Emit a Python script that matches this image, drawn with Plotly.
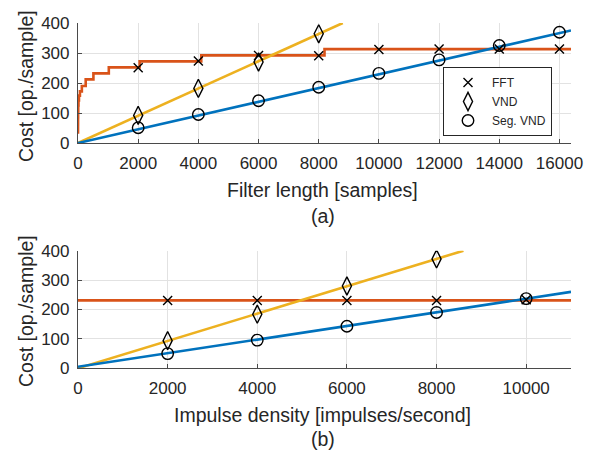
import plotly.graph_objects as go

# ---------------- data ----------------
# (a) cost vs. filter length
fft_step_x = [0, 1, 2, 4, 8, 16, 32, 64, 128, 256, 512, 1024, 2048, 4096, 8192, 16384]
fft_step_y = [35, 62, 85, 105, 125, 142, 158, 172, 190, 212, 232, 252, 272, 292, 313, 313]
vnd_line_x = [0, 8800]
vnd_line_y = [0, 400]
seg_line_x = [0, 16384]
seg_line_y = [0, 375]

len_marks = [2000, 4000, 6000, 8000, 10000, 12000, 14000, 16000]
fft_marks_a = [251, 273, 292, 291, 312, 313, 313, 313]
vnd_marks_x_a = [2000, 4000, 6000, 8000]
vnd_marks_a = [92, 182, 270, 364]
seg_marks_a = [51, 95, 141, 186, 232, 277, 325, 369]

# (b) cost vs. impulse density
fft_line_b_x = [0, 11000]
fft_line_b_y = [231, 231]
vnd_line_b_x = [0, 8600]
vnd_line_b_y = [0, 400]
seg_line_b_x = [0, 11000]
seg_line_b_y = [5, 260]

dens_marks = [2000, 4000, 6000, 8000, 10000]
fft_marks_b = [231, 231, 231, 231, 233]
vnd_marks_x_b = [2000, 4000, 6000, 8000]
vnd_marks_b = [94, 184, 280, 372]
seg_marks_b = [50, 96, 143, 190, 237]

x_ticks_a = [0, 2000, 4000, 6000, 8000, 10000, 12000, 14000, 16000]
x_ticks_b = [0, 2000, 4000, 6000, 8000, 10000]
y_ticks = [0, 100, 200, 300, 400]

# ---------------- styles ----------------
BLUE = "#0072BD"
ORANGE = "#D95319"
YELLOW = "#EDB120"
TXT = "#262626"
AX = "#4a4a4a"
GRID = "#e2e2e2"
FONT = "Liberation Sans, Arial, sans-serif"
LW = 2.6
TICK_FS = 17
LABEL_FS = 19.5
DIAMOND = 13

W, H = 594, 452


def mk(sym, size):
    return dict(symbol=sym, size=size, color="black",
                line=dict(color="black", width=1.4))


fig = go.Figure()

# ---- (a) lines ----
fig.add_trace(go.Scatter(x=fft_step_x, y=fft_step_y, mode="lines", line=dict(color=ORANGE, width=LW, shape="hv"),
                         showlegend=False, xaxis="x", yaxis="y", hoverinfo="skip"))
fig.add_trace(go.Scatter(x=vnd_line_x, y=vnd_line_y, mode="lines", line=dict(color=YELLOW, width=LW),
                         showlegend=False, xaxis="x", yaxis="y", hoverinfo="skip"))
fig.add_trace(go.Scatter(x=seg_line_x, y=seg_line_y, mode="lines", line=dict(color=BLUE, width=LW),
                         showlegend=False, xaxis="x", yaxis="y", hoverinfo="skip"))
# ---- (a) markers ----
fig.add_trace(go.Scatter(x=len_marks, y=fft_marks_a, mode="markers", name="FFT",
                         marker=mk("x-thin-open", 9), xaxis="x", yaxis="y"))
fig.add_trace(go.Scatter(x=vnd_marks_x_a, y=vnd_marks_a, mode="markers", name="VND",
                         marker=mk("diamond-tall-open", DIAMOND), xaxis="x", yaxis="y"))
fig.add_trace(go.Scatter(x=len_marks, y=seg_marks_a, mode="markers", name="Seg. VND",
                         marker=mk("circle-open", 11.5), xaxis="x", yaxis="y"))

# ---- (b) lines ----
fig.add_trace(go.Scatter(x=fft_line_b_x, y=fft_line_b_y, mode="lines", line=dict(color=ORANGE, width=LW),
                         showlegend=False, xaxis="x2", yaxis="y2", hoverinfo="skip"))
fig.add_trace(go.Scatter(x=vnd_line_b_x, y=vnd_line_b_y, mode="lines", line=dict(color=YELLOW, width=LW),
                         showlegend=False, xaxis="x2", yaxis="y2", hoverinfo="skip"))
fig.add_trace(go.Scatter(x=seg_line_b_x, y=seg_line_b_y, mode="lines", line=dict(color=BLUE, width=LW),
                         showlegend=False, xaxis="x2", yaxis="y2", hoverinfo="skip"))
# ---- (b) markers ----
fig.add_trace(go.Scatter(x=dens_marks, y=fft_marks_b, mode="markers", showlegend=False,
                         marker=mk("x-thin-open", 9), xaxis="x2", yaxis="y2"))
fig.add_trace(go.Scatter(x=vnd_marks_x_b, y=vnd_marks_b, mode="markers", showlegend=False,
                         marker=mk("diamond-tall-open", DIAMOND), xaxis="x2", yaxis="y2"))
fig.add_trace(go.Scatter(x=dens_marks, y=seg_marks_b, mode="markers", showlegend=False,
                         marker=mk("circle-open", 11.5), xaxis="x2", yaxis="y2"))


def px_x(p):
    return p / W


def px_y(p):
    return (H - p) / H


x_dom = [px_x(78), px_x(571)]
common_ax = dict(showline=True, linecolor=AX, linewidth=1.2, ticks="inside", ticklen=4,
                 tickcolor=AX, tickwidth=1, showgrid=True, gridcolor=GRID, gridwidth=1,
                 zeroline=False, automargin=False,
                 tickfont=dict(family=FONT, size=TICK_FS, color=TXT), mirror=False)

fig.update_layout(
    width=W, height=H,
    margin=dict(l=0, r=0, t=0, b=0, autoexpand=False),
    paper_bgcolor="white", plot_bgcolor="white",
    font=dict(family=FONT, color=TXT),
    xaxis=dict(domain=x_dom, range=[0, 16384], tickvals=x_ticks_a, ticktext=[str(v) for v in x_ticks_a],
               anchor="y", ticklabelstandoff=4, **common_ax),
    yaxis=dict(domain=[px_y(143), px_y(23)], range=[0, 400], tickvals=y_ticks, ticktext=[str(v) for v in y_ticks],
               anchor="x", ticklabelstandoff=4, **common_ax),
    xaxis2=dict(domain=x_dom, range=[0, 11000], tickvals=x_ticks_b, ticktext=[str(v) for v in x_ticks_b],
                anchor="y2", ticklabelstandoff=4, **common_ax),
    yaxis2=dict(domain=[px_y(368.3), px_y(250.7)], range=[0, 400], tickvals=y_ticks, ticktext=[str(v) for v in y_ticks],
                anchor="x2", ticklabelstandoff=4, **common_ax),
    legend=dict(x=px_x(443), y=px_y(67), xanchor="left", yanchor="top",
                bgcolor="white", bordercolor=TXT, borderwidth=1,
                font=dict(family=FONT, size=12, color=TXT), itemwidth=38,
                tracegroupgap=0),
    showlegend=True,
)

annots = [
    ("Filter length [samples]", 322, 190),
    ("(a)", 323, 216),
    ("Impulse density [impulses/second]", 322, 415),
    ("(b)", 323, 439),
]
for text, x, y in annots:
    fig.add_annotation(text=text, x=px_x(x), y=px_y(y), xref="paper", yref="paper",
                       xanchor="center", yanchor="middle", showarrow=False,
                       font=dict(family=FONT, size=LABEL_FS, color=TXT))
for y in (86, 311):
    fig.add_annotation(text="Cost [op./sample]", x=px_x(26), y=px_y(y), xref="paper", yref="paper",
                       xanchor="center", yanchor="middle", showarrow=False, textangle=-90,
                       font=dict(family=FONT, size=LABEL_FS, color=TXT))

fig.write_html("out.html", config=dict(displayModeBar=False))
